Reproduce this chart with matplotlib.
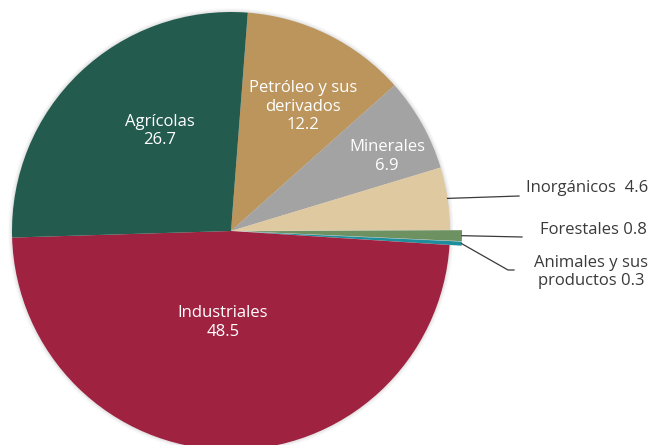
import matplotlib
matplotlib.use('Agg')
import matplotlib.pyplot as plt
from matplotlib.patches import Circle
import numpy as np

plt.rcParams['font.family'] = ['Open Sans', 'DejaVu Sans']

# Exportaciones por tipo de producto (% del total)
labels = ['Petróleo y sus\nderivados', 'Minerales', 'Inorgánicos', 'Forestales',
          'Animales y sus\nproductos', 'Industriales', 'Agrícolas']
values = [12.2, 6.9, 4.6, 0.8, 0.3, 48.5, 26.7]
colors = ['#BC955C', '#A3A3A3', '#DEC9A1', '#6D9161', '#1F8E9C', '#9F2241', '#235B4E']

fig = plt.figure(figsize=(6.53, 4.45), dpi=100)
ax = fig.add_axes([0, 0, 1, 1])

cx, cy, r = 231, 214, 219
# small slices pulled out a little (offset in data units)
explode = [0, 0, 0, 0.055 * r, 0.055 * r, 0, 0]

# soft halo behind the pie
for k, a in zip([4, 3, 2, 1], [0.03, 0.05, 0.07, 0.09]):
    ax.add_patch(Circle((cx, cy), r + k, color='#888888', alpha=a, lw=0, zorder=0))

wedges, _ = ax.pie(values, colors=colors, explode=explode, startangle=85.6,
                   counterclock=False, center=(cx, cy), radius=r,
                   wedgeprops=dict(linewidth=0), frame=True)
for w in wedges:
    w.set_zorder(2)

# labels inside the pie: (angle in degrees, fraction of radius)
inside = {0: (60, 0.655), 1: (25.5, 0.79), 5: (-95, 0.42), 6: (125.5, 0.56)}
for i, (a, d) in inside.items():
    ang = np.deg2rad(a)
    x = cx + d * r * np.cos(ang)
    y = cy + d * r * np.sin(ang)
    ax.text(x, y, f'{labels[i]}\n{values[i]}', ha='center', va='center',
            color='white', fontsize=12, linespacing=1.2, zorder=3)

# labels outside with leader lines
def edge_point(i, frac=1.0):
    w = wedges[i]
    ang = np.deg2rad((w.theta1 + w.theta2) / 2)
    wx, wy = w.center
    return wx + w.r * frac * np.cos(ang), wy + w.r * frac * np.sin(ang)

lc = '#3A3A3A'
x0, y0 = edge_point(2)
ax.plot([x0, 519], [y0, 249], color=lc, lw=0.9, zorder=3)
ax.text(648, 257, f'{labels[2]}  {values[2]}', ha='right', va='center',
        color='#3A3A3A', fontsize=12)

x0, y0 = edge_point(3)
ax.plot([x0, 522], [y0, 208], color=lc, lw=0.9, zorder=3)
ax.text(647, 215, f'{labels[3]} {values[3]}', ha='right', va='center',
        color='#3A3A3A', fontsize=12)

x0, y0 = edge_point(4)
ax.plot([x0, 508, 514], [y0, 175, 175], color=lc, lw=0.9, zorder=3)
ax.text(648, 173, f'{labels[4]} {values[4]}', ha='right', va='center',
        multialignment='center', color='#3A3A3A', fontsize=12, linespacing=1.15)

ax.set_xlim(0, 653)
ax.set_ylim(0, 445)
ax.set_aspect('equal')
ax.axis('off')

fig.savefig('out.png', dpi=100)
